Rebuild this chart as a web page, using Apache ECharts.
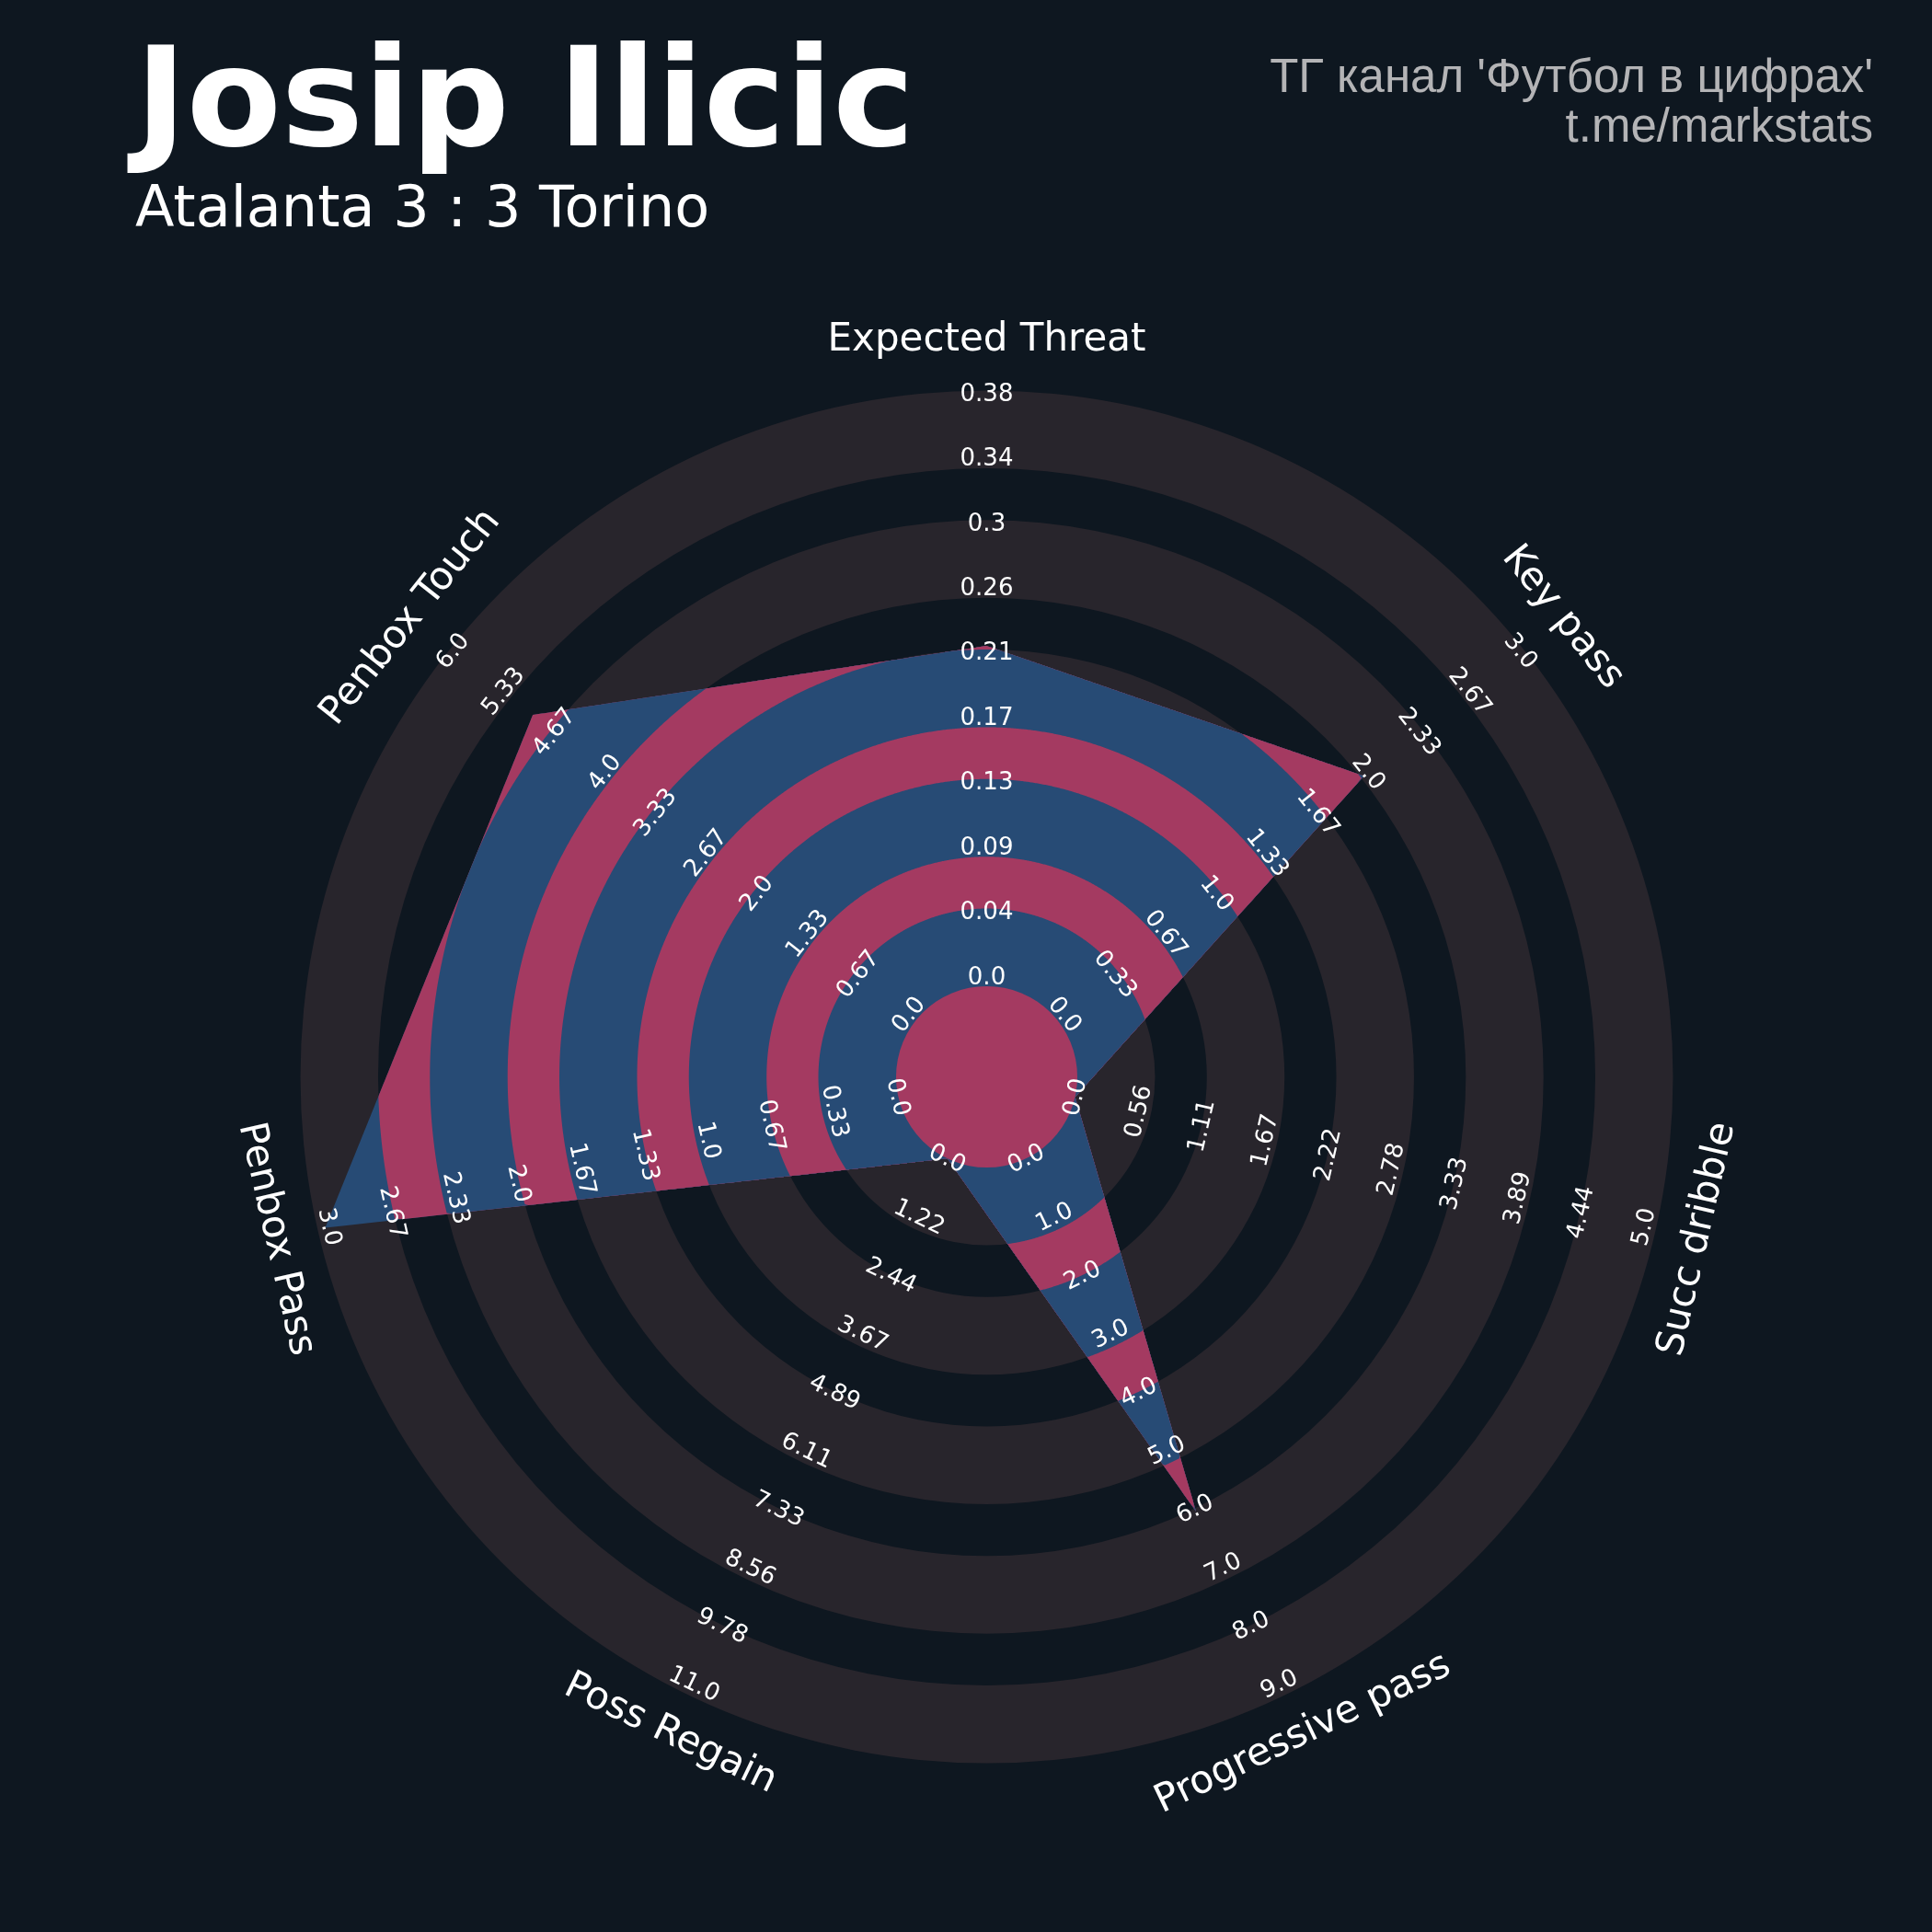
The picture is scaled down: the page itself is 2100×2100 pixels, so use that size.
<!DOCTYPE html>
<html><head><meta charset="utf-8">
<script src="https://cdn.jsdelivr.net/npm/echarts@6/dist/echarts.min.js"></script>
<style>html,body{margin:0;padding:0;background:#0e1720;}#c{width:2100px;height:2100px;}</style>
</head><body><div id="c"></div>
<script>
// ---------- data ----------
const params = ['Expected Threat', 'Key pass', 'Succ dribble', 'Progressive pass', 'Poss Regain', 'Penbox Pass', 'Penbox Touch'];
const values = [0.22, 2, 0, 6, 0, 3, 5];
const minRange = [0, 0, 0, 0, 0, 0, 0];
const maxRange = [0.38, 3, 5, 9, 11, 3, 6];
const tickLabels = [
  ['0.0','0.04','0.09','0.13','0.17','0.21','0.26','0.3','0.34','0.38'],
  ['0.0','0.33','0.67','1.0','1.33','1.67','2.0','2.33','2.67','3.0'],
  ['0.0','0.56','1.11','1.67','2.22','2.78','3.33','3.89','4.44','5.0'],
  ['0.0','1.0','2.0','3.0','4.0','5.0','6.0','7.0','8.0','9.0'],
  ['0.0','1.22','2.44','3.67','4.89','6.11','7.33','8.56','9.78','11.0'],
  ['0.0','0.33','0.67','1.0','1.33','1.67','2.0','2.33','2.67','3.0'],
  ['0.0','0.67','1.33','2.0','2.67','3.33','4.0','4.67','5.33','6.0']
];
const titleText = 'Josip Ilicic';
const subtitleText = 'Atalanta 3 : 3 Torino';
const creditLines = ["ТГ канал 'Футбол в цифрах'", 't.me/markstats'];

// ---------- layout / style ----------
const COL = {bg: '#0e1720', ring: '#28252c', pink: '#a43a61', blue: '#274b75', text: '#ffffff', credit: '#b4b4b6'};
const UNIT = 28.15;           // px per radius-axis unit
const RAD_MAX = 30;
const R_IN = 3.5, R_OUT = 26.2, R_PARAM = 28.3;
const LBL_IN = 3.68;
const RING_EDGES = [3.5, 6.5, 8.5, 11.5, 13.5, 16.5, 18.5, 21.5, 23.5, 26.5];
const N = params.length;
const angleOf = i => i * 360 / N;
const radiusOf = (i, v) => R_IN + (v - minRange[i]) / (maxRange[i] - minRange[i]) * (R_OUT - R_IN);
function normRot(deg) { while (deg <= -90) deg += 180; while (deg > 90) deg -= 180; return deg; }

function rayHit(thDeg, A, B) {
  const t = thDeg * Math.PI / 180;
  const dx = Math.sin(t), dy = Math.cos(t);
  const ex = B.x - A.x, ey = B.y - A.y;
  const den = dx * ey - dy * ex;
  if (Math.abs(den) < 1e-12) return A.r;
  return (A.x * ey - A.y * ex) / den;
}

function renderItem(p, api) {
  const children = [];
  let z = 0;
  const c0 = api.coord([0, 0]);
  const rpx = r => { const q = api.coord([r, 0]); return Math.hypot(q[0] - c0[0], q[1] - c0[1]); };
  // background rings
  for (let k = RING_EDGES.length - 1; k >= 0; k--) {
    children.push({type: 'circle', shape: {cx: c0[0], cy: c0[1], r: rpx(RING_EDGES[k])},
      style: {fill: k % 2 === 1 ? COL.ring : COL.bg}, z2: z++});
  }
  // polygon vertices in data space
  const verts = values.map((v, i) => {
    const r = radiusOf(i, v), a = angleOf(i) * Math.PI / 180;
    return {r: r, a: angleOf(i), x: r * Math.sin(a), y: r * Math.cos(a)};
  });
  for (let k = RING_EDGES.length - 1; k >= 1; k--) {
    const R = RING_EDGES[k];
    const pts = [];
    for (let s = 0; s < N; s++) {
      const A = verts[s], B = verts[(s + 1) % N];
      const a0 = A.a, a1 = (s === N - 1) ? 360 : B.a;
      const steps = 240;
      for (let t = 0; t < steps; t++) {
        const th = a0 + (a1 - a0) * t / steps;
        const rr = Math.min(rayHit(th, A, B), R);
        pts.push(api.coord([rr, th]));
      }
    }
    children.push({type: 'polygon', shape: {points: pts},
      style: {fill: k % 2 === 1 ? COL.blue : COL.pink}, z2: z++});
  }
  children.push({type: 'circle', shape: {cx: c0[0], cy: c0[1], r: rpx(RING_EDGES[0])},
    style: {fill: COL.pink}, z2: z++});
  // tick labels
  for (let i = 0; i < N; i++) {
    const rot = normRot(-angleOf(i)) * Math.PI / 180;
    const labs = tickLabels[i];
    for (let j = 0; j < labs.length; j++) {
      const r = LBL_IN + j * (R_OUT - LBL_IN) / (labs.length - 1);
      const pos = api.coord([r, angleOf(i)]);
      children.push({type: 'text', x: pos[0], y: pos[1], rotation: rot,
        style: {text: labs[j], x: 0, y: -4, fill: COL.text, fontSize: 26, fontFamily: 'DejaVu Sans',
          align: 'center', verticalAlign: 'middle'}, z2: z++});
    }
    const pp = api.coord([R_PARAM, angleOf(i)]);
    children.push({type: 'text', x: pp[0], y: pp[1], rotation: rot,
      style: {text: params[i], x: 0, y: -4, fill: COL.text, fontSize: 42, fontFamily: 'DejaVu Sans',
        align: 'center', verticalAlign: 'middle'}, z2: z++});
  }
  return {type: 'group', children: children};
}

const chart = echarts.init(document.getElementById('c'), null, {renderer: 'canvas', width: 2100, height: 2100});
chart.setOption({
  backgroundColor: COL.bg,
  animation: false,
  polar: {center: [1072.5, 1170.5], radius: RAD_MAX * UNIT},
  angleAxis: {type: 'value', min: 0, max: 360, startAngle: 90, clockwise: true, show: false},
  radiusAxis: {type: 'value', min: 0, max: RAD_MAX, show: false},
  series: [{type: 'custom', coordinateSystem: 'polar', data: [[0, 0]], renderItem: renderItem, silent: true}],
  graphic: [
    {type: 'text', x: 147, y: 119, style: {text: titleText, fill: COL.text, fontSize: 150,
      fontWeight: 'bold', fontFamily: 'DejaVu Sans', align: 'left', verticalAlign: 'middle'}},
    {type: 'text', x: 147, y: 230, style: {text: subtitleText, fill: COL.text, fontSize: 62,
      fontFamily: 'DejaVu Sans', align: 'left', verticalAlign: 'middle'}},
    {type: 'text', x: 2036, y: 86, style: {text: creditLines[0], fill: COL.credit, fontSize: 51,
      fontFamily: 'Liberation Sans', align: 'right', verticalAlign: 'middle'}},
    {type: 'text', x: 2036, y: 140, style: {text: creditLines[1], fill: COL.credit, fontSize: 51,
      fontFamily: 'Liberation Sans', align: 'right', verticalAlign: 'middle'}}
  ]
});
</script></body></html>
